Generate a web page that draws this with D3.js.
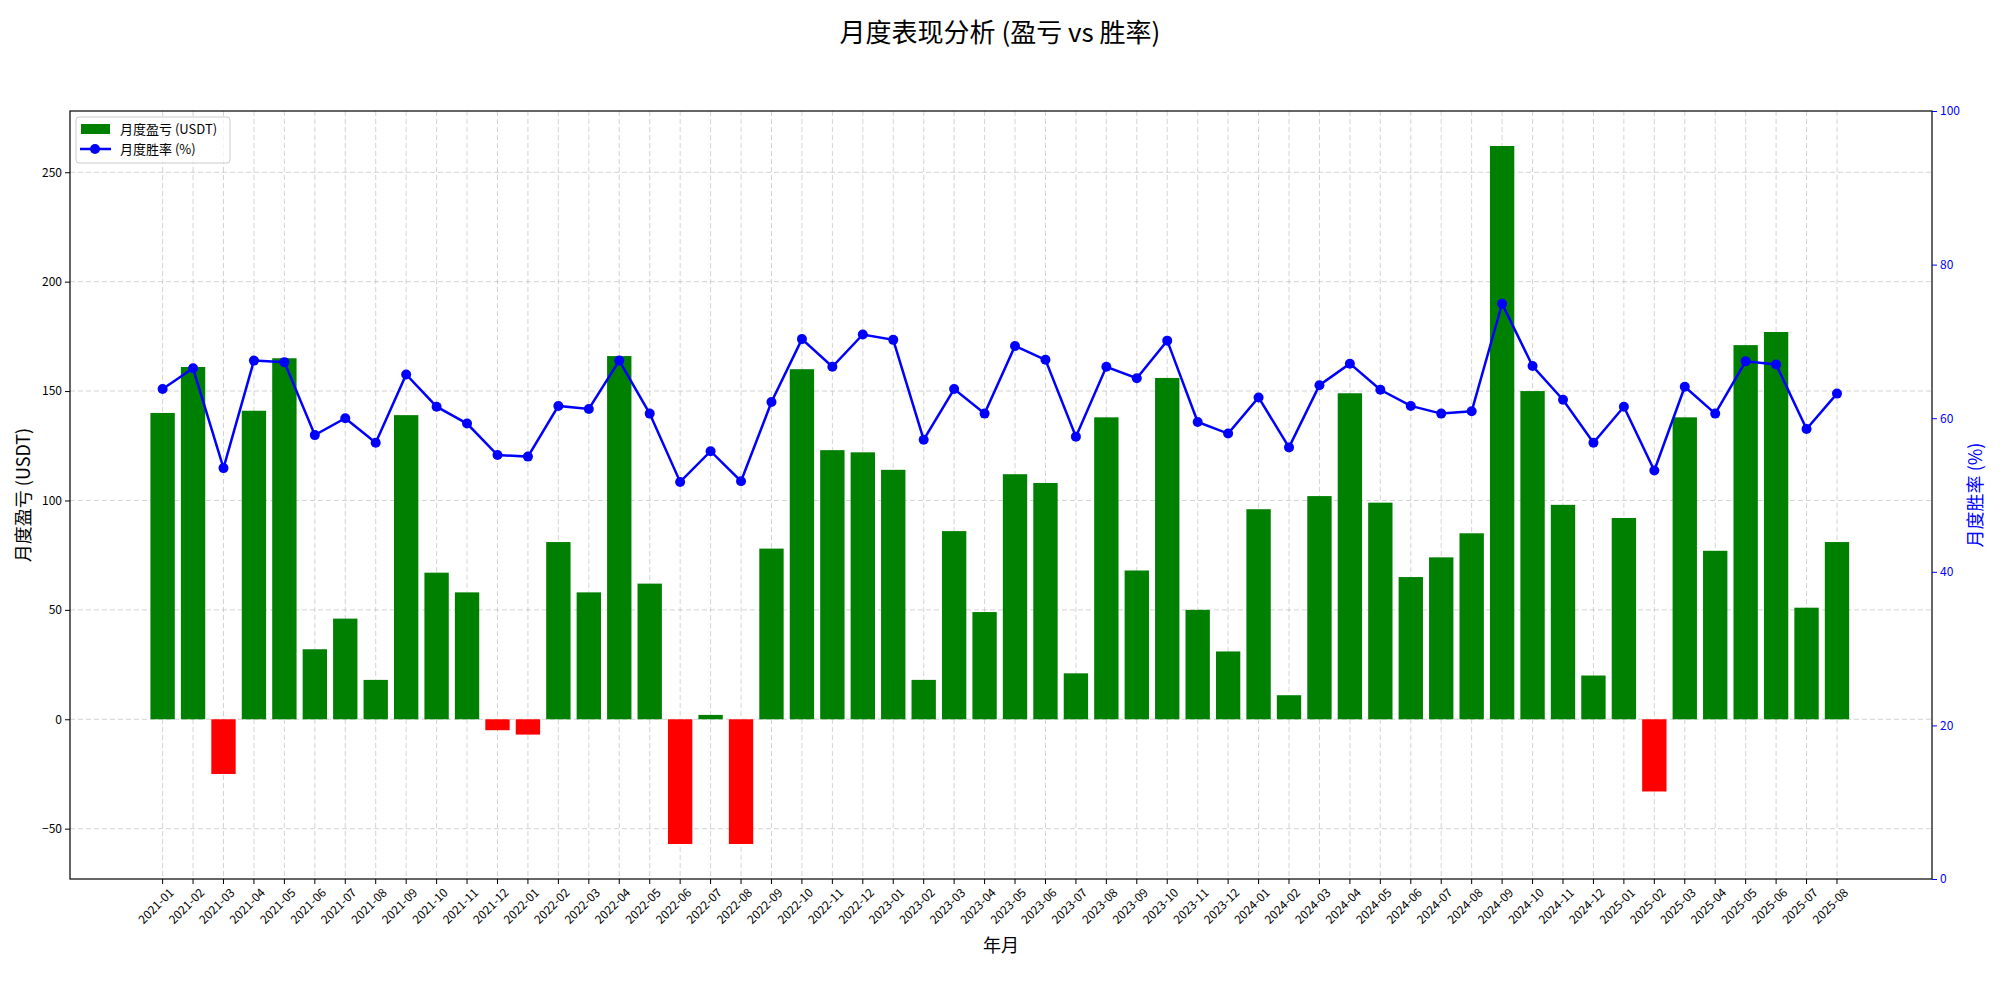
<!DOCTYPE html>
<html><head><meta charset="utf-8">
<script src="https://cdn.jsdelivr.net/npm/d3@7"></script>
<style>body{margin:0;background:#fff}text{font-family:"Noto Sans CJK SC","DejaVu Sans",sans-serif}</style>
</head><body><svg id="c" width="2000" height="1000"></svg>
<script>
const months = ["2021-01","2021-02","2021-03","2021-04","2021-05","2021-06","2021-07","2021-08","2021-09","2021-10","2021-11","2021-12","2022-01","2022-02","2022-03","2022-04","2022-05","2022-06","2022-07","2022-08","2022-09","2022-10","2022-11","2022-12","2023-01","2023-02","2023-03","2023-04","2023-05","2023-06","2023-07","2023-08","2023-09","2023-10","2023-11","2023-12","2024-01","2024-02","2024-03","2024-04","2024-05","2024-06","2024-07","2024-08","2024-09","2024-10","2024-11","2024-12","2025-01","2025-02","2025-03","2025-04","2025-05","2025-06","2025-07","2025-08"];
const pnl = [140,161,-25,141,165,32,46,18,139,67,58,-5,-7,81,58,166,62,-57,2,-57,78,160,123,122,114,18,86,49,112,108,21,138,68,156,50,31,96,11,102,149,99,65,74,85,262,150,98,20,92,-33,138,77,171,177,51,81];
const winRate = [63.8,66.5,53.5,67.5,67.3,57.8,60,56.8,65.7,61.5,59.3,55.2,55,61.6,61.2,67.5,60.6,51.7,55.7,51.8,62.1,70.3,66.7,70.9,70.2,57.2,63.8,60.6,69.4,67.6,57.6,66.7,65.2,70.1,59.5,58,62.7,56.2,64.3,67.1,63.7,61.6,60.6,60.9,74.9,66.8,62.4,56.8,61.5,53.2,64.1,60.6,67.4,67,58.6,63.2];
const leftTicks = [-50,0,50,100,150,200,250];
const rightTicks = [0,20,40,60,80,100];

const svg = d3.select("#c");
const L=70,R=1932,T=111,B=879;
const x = d3.scaleBand().domain(months).range([165.6-30.33/2, 1834+30.33/2]).paddingInner(0.2).paddingOuter(0);
const y = d3.scaleLinear().domain([-73,278]).range([B,T]);
const y2 = d3.scaleLinear().domain([0,100]).range([B,T]);
const cx = m => x(m)+x.bandwidth()/2;

// grid
const g = svg.append("g");
g.selectAll(".gx").data(months).join("line").attr("x1",cx).attr("x2",cx).attr("y1",T).attr("y2",B)
 .attr("stroke","#b0b0b0").attr("stroke-opacity",0.7).attr("stroke-dasharray","5,3").attr("stroke-width",0.8);
g.selectAll(".gy").data(leftTicks).join("line").attr("x1",L).attr("x2",R).attr("y1",d=>y(d)).attr("y2",d=>y(d))
 .attr("stroke","#b0b0b0").attr("stroke-opacity",0.7).attr("stroke-dasharray","5,3").attr("stroke-width",0.8);

// bars
svg.selectAll(".bar").data(months).join("rect")
 .attr("x",m=>x(m)).attr("width",x.bandwidth())
 .attr("y",(m,i)=>y(Math.max(0,pnl[i]))).attr("height",(m,i)=>Math.abs(y(pnl[i])-y(0)))
 .attr("fill",(m,i)=>pnl[i]>=0?"#008000":"#ff0000");

// line
svg.append("path").datum(months).attr("fill","none").attr("stroke","#0000ff").attr("stroke-width",2.5)
 .attr("d",d3.line().x(cx).y((m,i)=>y2(winRate[i])));
svg.selectAll(".pt").data(months).join("circle").attr("cx",cx).attr("cy",(m,i)=>y2(winRate[i])).attr("r",5).attr("fill","#0000ff");

// frame
svg.append("rect").attr("x",L).attr("y",T).attr("width",R-L).attr("height",B-T).attr("fill","none").attr("stroke","#000").attr("stroke-width",1.2);

// axes
const ax = svg.append("g").attr("transform",`translate(0,${B})`).call(d3.axisBottom(x).tickSize(5).tickSizeOuter(0));
ax.select(".domain").remove();
ax.selectAll("text").attr("font-size",12).attr("text-anchor","end").attr("transform","translate(3,2) rotate(-45)").attr("dy","0.6em").attr("dx","-0.2em");
const ay = svg.append("g").attr("transform",`translate(${L},0)`).call(d3.axisLeft(y).tickValues(leftTicks).tickSize(5));
ay.select(".domain").remove(); ay.selectAll("text").attr("font-size",12);
const ay2 = svg.append("g").attr("transform",`translate(${R},0)`).call(d3.axisRight(y2).tickValues(rightTicks).tickSize(5));
ay2.select(".domain").remove(); ay2.selectAll("text").attr("font-size",12).attr("fill","#0000ff"); ay2.selectAll("line").attr("stroke","#0000ff");

// labels
svg.append("text").attr("x",1000).attr("y",42).attr("text-anchor","middle").attr("font-size",26).text("月度表现分析 (盈亏 vs 胜率)");
svg.append("text").attr("x",1001).attr("y",952).attr("text-anchor","middle").attr("font-size",18).text("年月");
svg.append("text").attr("transform","translate(30,495) rotate(-90)").attr("text-anchor","middle").attr("font-size",18).text("月度盈亏 (USDT)");
svg.append("text").attr("transform","translate(1982,495) rotate(-90)").attr("text-anchor","middle").attr("font-size",18).attr("fill","#0000ff").text("月度胜率 (%)");

// legend
const lg = svg.append("g");
lg.append("rect").attr("x",76).attr("y",117).attr("width",154).attr("height",46).attr("fill","#fff").attr("fill-opacity",0.8).attr("stroke","#ccc").attr("rx",3);
lg.append("rect").attr("x",81).attr("y",124).attr("width",29).attr("height",10).attr("fill","#008000");
lg.append("line").attr("x1",80).attr("x2",111).attr("y1",149).attr("y2",149).attr("stroke","#0000ff").attr("stroke-width",2.5);
lg.append("circle").attr("cx",95).attr("cy",149).attr("r",5).attr("fill","#0000ff");
lg.append("text").attr("x",120).attr("y",134).attr("font-size",13).text("月度盈亏 (USDT)");
lg.append("text").attr("x",120).attr("y",154).attr("font-size",13).text("月度胜率 (%)");
</script></body></html>
